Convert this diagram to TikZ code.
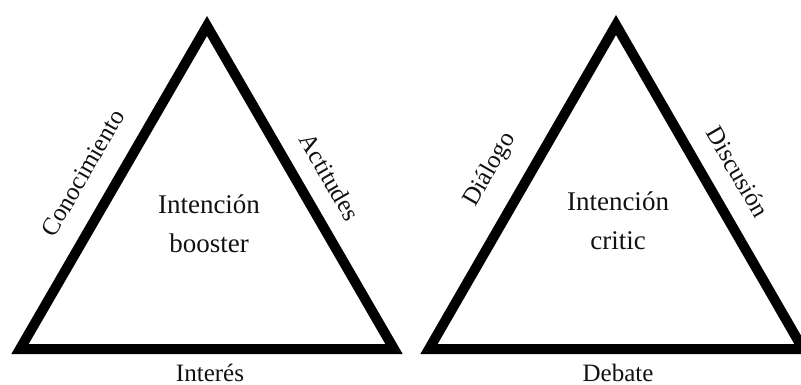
\documentclass[tikz,border=0pt]{standalone}
\usepackage{fontspec}
\setmainfont{Liberation Serif}
\usepackage{tikz}
\usetikzlibrary{positioning}
\definecolor{edgecolor}{HTML}{000000}
\definecolor{labeltext}{HTML}{111111}

\tikzset{
    triangle/.style={draw=edgecolor, line width=10pt, line join=miter},
    sidelabel/.style={text=labeltext, font=\fontsize{25}{30}\selectfont, inner sep=0pt},
    centerlabel/.style={text=labeltext, font=\fontsize{27}{39}\selectfont, align=center, inner sep=0pt}
}

\begin{document}
\begin{tikzpicture}[x=1pt, y=-1pt]
    \useasboundingbox (0,0) rectangle (801,385);

    % left triangle
    \coordinate (boostTop) at (207,26);
    \coordinate (boostLeft) at (20,349);
    \coordinate (boostRight) at (394,349);
    \draw[triangle] (boostLeft) -- (boostTop) -- (boostRight) -- cycle;

    \node[centerlabel, anchor=base] (boostCenter) at (209,252) {Intención\\booster};
    \node[sidelabel, rotate=60] (knowledge) at (83,173) {Conocimiento};
    \node[sidelabel, rotate=-60] (attitudes) at (330,177) {Actitudes};
    \node[sidelabel] (interest) at (210,373) {Interés};

    % right triangle
    \coordinate (criticTop) at (616,25);
    \coordinate (criticLeft) at (429,349);
    \coordinate (criticRight) at (803,349);
    \draw[triangle] (criticLeft) -- (criticTop) -- (criticRight) -- cycle;

    \node[centerlabel, anchor=base] (criticCenter) at (618,249) {Intención\\critic};
    \node[sidelabel, rotate=60] (dialogue) at (490,170) {Diálogo};
    \node[sidelabel, rotate=-60] (discussion) at (738,172) {Discusión};
    \node[sidelabel] (debate) at (618,373) {Debate};
\end{tikzpicture}
\end{document}
